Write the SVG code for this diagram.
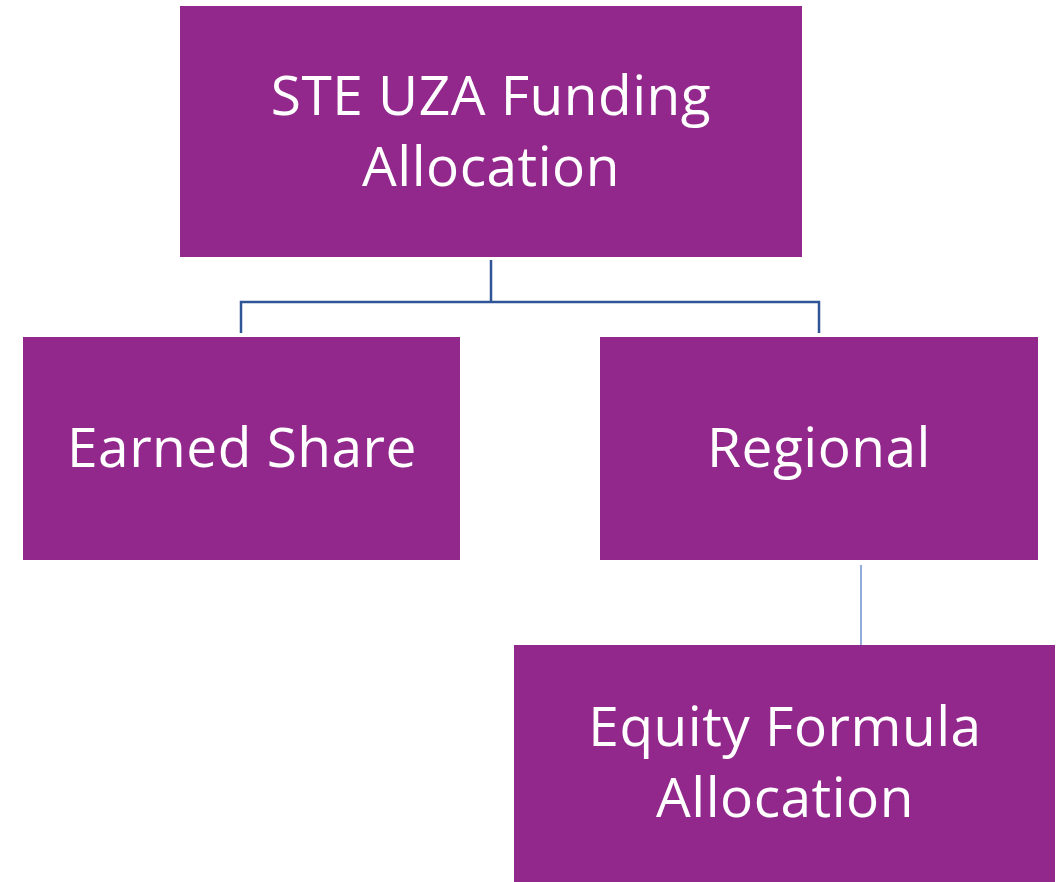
<svg xmlns="http://www.w3.org/2000/svg" width="1061" height="882" viewBox="0 0 1061 882">
<style>
.box{fill:#92278C;}
.t{font-family:"Open Sans","Liberation Sans",sans-serif;font-size:55px;letter-spacing:0.5px;fill:#ffffff;text-anchor:middle;}
.c1{stroke:#2F5597;stroke-width:2.5;fill:none;}
.c2{stroke:#6C8FCF;stroke-width:1.5;fill:none;}
</style>
<rect width="1061" height="882" fill="#ffffff"/>
<g id="connectors">
<path class="c1" d="M491 260 V302 M241 333 V302 H819 V333"/>
<path class="c2" d="M861 565 V647"/>
</g>
<g id="root">
<rect class="box" x="180" y="6" width="622" height="251"/>
<text class="t" x="491" y="115">STE UZA Funding</text>
<text class="t" x="491" y="186">Allocation</text>
</g>
<g id="earned">
<rect class="box" x="23" y="337" width="437" height="223"/>
<text class="t" x="242" y="467">Earned Share</text>
</g>
<g id="regional">
<rect class="box" x="600" y="337" width="438" height="223"/>
<text class="t" x="819" y="467">Regional</text>
</g>
<g id="equity">
<rect class="box" x="514" y="645" width="541" height="237"/>
<text class="t" x="785" y="746">Equity Formula</text>
<text class="t" x="785" y="817">Allocation</text>
</g>
</svg>
